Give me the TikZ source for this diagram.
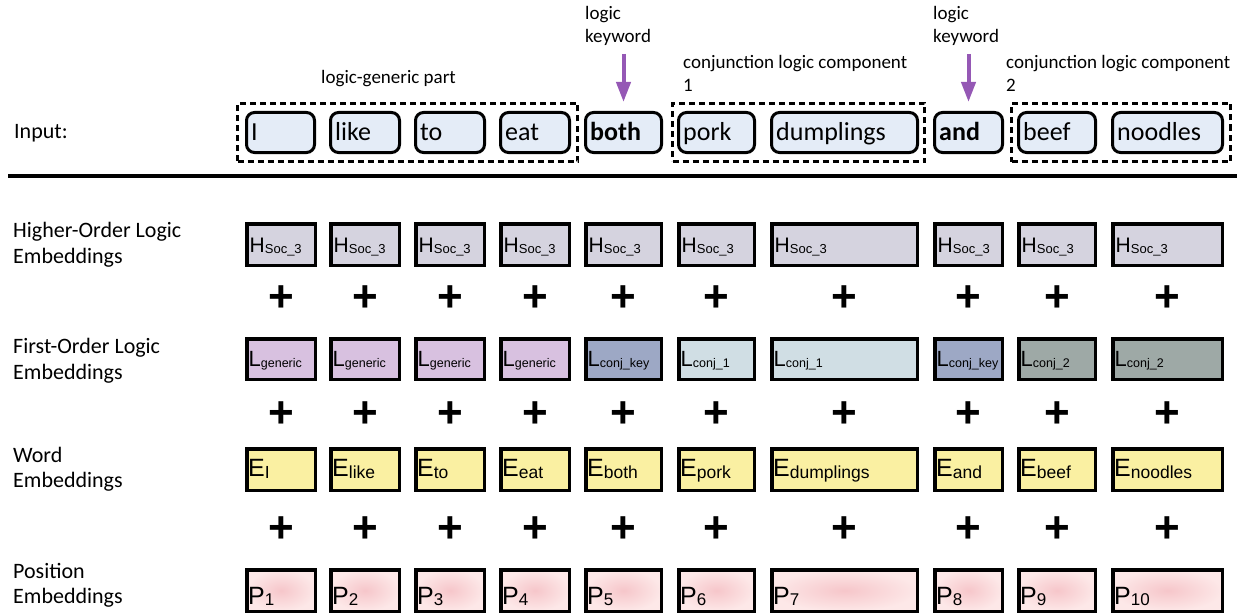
\documentclass[tikz,border=0pt]{standalone}
\usepackage{fontspec}
\setmainfont{Carlito}
\newfontfamily\arialf{Liberation Sans}
\usetikzlibrary{arrows.meta}
\definecolor{inputfill}{HTML}{E4ECF7}
\definecolor{hfill}{HTML}{D5D3DF}
\definecolor{lgen}{HTML}{D8C1E0}
\definecolor{lkey}{HTML}{9DA8C5}
\definecolor{lcA}{HTML}{D0DEE4}
\definecolor{lcB}{HTML}{9EA9A6}
\definecolor{efill}{HTML}{FAF0A2}
\definecolor{pin}{HTML}{F6C6CA}
\definecolor{pout}{HTML}{FDE8E8}
\definecolor{arrowc}{HTML}{9558B5}
\newcommand\fs[1]{\fontsize{#1}{#1}\selectfont}
\newcommand\fsl[2]{\fontsize{#1}{#2}\selectfont}
\newcommand\emtxt[4]{{\arialf\fs{#1}#2}{\arialf\fs{#3}\raisebox{-1.5pt}{#4}}}
\begin{document}
\begin{tikzpicture}[x=1pt,y=-1pt,
 inbox/.style={draw=black,line width=3pt,rounded corners=8pt,fill=inputfill,inner sep=0pt,anchor=north west,minimum height=40pt},
 grpbox/.style={draw=black,line width=3pt,dash pattern=on 6pt off 4pt,inner sep=0pt,anchor=north west,minimum height=58pt},
 embbox/.style={draw=black,line width=3.5pt,inner sep=0pt,anchor=north west},
 wordtxt/.style={inner sep=0pt,anchor=base west,font=\fs{26}},
 boxtxt/.style={inner sep=0pt,anchor=base west},
 rowlbl/.style={inner sep=0pt,anchor=west,align=left,font=\fsl{22}{25.5}},
 note/.style={inner sep=0pt,anchor=west,align=left,font=\fsl{19}{23}},
 plussign/.style={inner sep=0pt,font=\arialf\bfseries\fs{44}},
 kwarrow/.style={draw=arrowc,line width=4pt,-{Triangle[length=20pt,width=14pt,fill=arrowc]}},
]
\useasboundingbox (0,0) rectangle (1239,615);

% input row
\node[rowlbl] (inlbl) at (14,133) {Input:};
\foreach \i/\a/\b/\w in {1/245/316/I,2/329/401/like,3/414/486/to,4/499/571/eat,5/584/663/\textbf{both},6/677/756/pork,7/770/919/dumplings,8/933/1004/\textbf{and},9/1017/1097/beef,10/1111/1224/noodles}{
  \node[inbox,minimum width={\b-\a-3}] (in\i) at (\a,111) {};
  \node[wordtxt] (w\i) at (\a+6,141) {\w};
}
\node[grpbox,minimum width=340pt] (g1) at (236,102) {};
\node[grpbox,minimum width=252pt] (g2) at (671,102) {};
\node[grpbox,minimum width=219pt] (g3) at (1010,102) {};

\node[note] (gen) at (321,79) {logic-generic part};
\node[note] (kw1) at (585,26) {logic\\keyword};
\node[note] (cj1) at (683,73) {conjunction logic component\\1};
\node[note] (kw2) at (933,26) {logic\\keyword};
\node[note] (cj2) at (1006,73) {conjunction logic component\\2};

\coordinate (a1) at (623.5,54);
\coordinate (a2) at (968.5,54);
\draw[kwarrow,shorten >=9pt] (a1) -- (a1 |- in5.north);
\draw[kwarrow,shorten >=9pt] (a2) -- (a2 |- in8.north);

\coordinate (rl) at (8,176);
\coordinate (rr) at (1237,176);
\draw[line width=3.5pt] (rl) -- (rr);

% row labels
\node[rowlbl] (lh) at (13,245) {Higher-Order Logic\\Embeddings};
\node[rowlbl] (ll) at (13,360.5) {First-Order Logic\\Embeddings};
\node[rowlbl] (le) at (13,469) {Word\\Embeddings};
\node[rowlbl] (lp) at (13,585.5) {Position\\Embeddings};

% embedding rows
\foreach \i/\a/\b/\c/\s/\w in {1/245/317/lgen/generic/I,2/329/401/lgen/generic/like,3/414/486/lgen/generic/to,4/499/571/lgen/generic/eat,5/584/663/lkey/conj\_key/both,6/677/756/lcA/conj\_1/pork,7/770/919/lcA/conj\_1/dumplings,8/933/1004/lkey/conj\_key/and,9/1017/1097/lcB/conj\_2/beef,10/1111/1224/lcB/conj\_2/noodles}{
  \node[embbox,fill=hfill,minimum width={\b-\a-3.5},minimum height=41.5pt] (h\i) at (\a,222) {};
  \node[boxtxt] (ht\i) at (\a+4.5,252) {\emtxt{21}{H}{13}{Soc\_3}};
  \node[plussign] (pa\i) at ({(\a+\b)/2},299) {+};
  \node[embbox,fill=\c,minimum width={\b-\a-3.5},minimum height=40.5pt] (l\i) at (\a,337) {};
  \node[boxtxt] (lt\i) at (\a+3.5,366) {\emtxt{22}{L}{12.5}{\s}};
  \node[plussign] (pb\i) at ({(\a+\b)/2},415) {+};
  \node[embbox,fill=efill,minimum width={\b-\a-3.5},minimum height=41.5pt] (e\i) at (\a,447) {};
  \node[boxtxt] (et\i) at (\a+3,476.5) {\emtxt{25}{E}{17.5}{\w}};
  \node[plussign] (pc\i) at ({(\a+\b)/2},530) {+};
  \node[embbox,inner color=pin,outer color=pout,minimum width={\b-\a-3.5},minimum height=41.5pt] (p\i) at (\a,568) {};
  \node[boxtxt] (pt\i) at (\a+3,604) {\emtxt{25}{P}{17}{\i}};
}
\end{tikzpicture}
\end{document}
